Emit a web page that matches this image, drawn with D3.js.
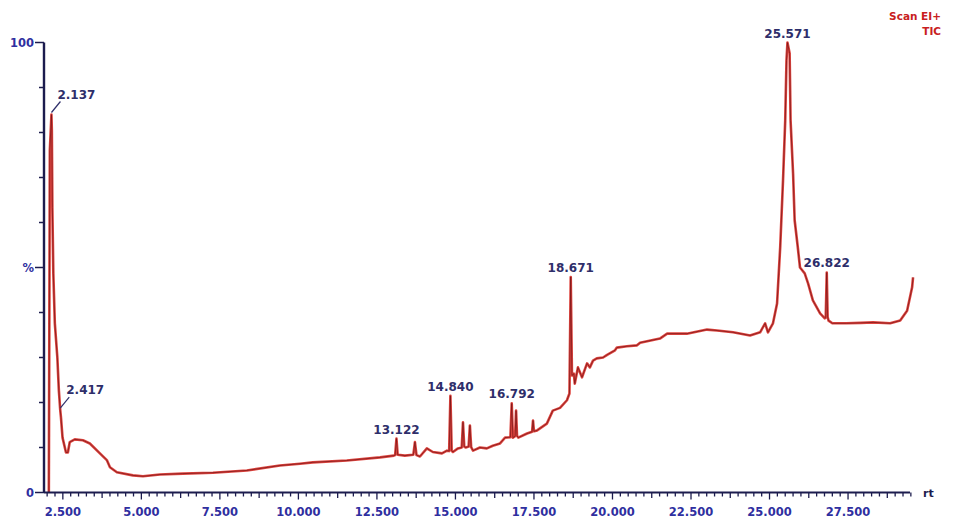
<!DOCTYPE html>
<html>
<head>
<meta charset="utf-8">
<script src="https://cdn.jsdelivr.net/npm/d3@7"></script>
<style>
  html, body { margin: 0; padding: 0; background: #ffffff; }
  svg { display: block; }
  text { font-family: "DejaVu Sans", Verdana, sans-serif; font-weight: bold; }
</style>
</head>
<body>
<svg id="chart" width="954" height="519"></svg>
<script>
// Total ion chromatogram (Scan EI+, TIC): retention time (min) vs relative abundance (%)
const retentionTimes = [
  2.054, 2.086, 2.137, 2.150, 2.166, 2.197, 2.245, 2.325, 2.373, 2.417, 2.440, 2.490,
  2.600, 2.660, 2.720, 2.880, 3.140, 3.360, 3.680, 3.900, 4.000, 4.220, 4.730, 5.050,
  5.590, 6.320, 7.280, 8.360, 9.410, 10.050, 10.460, 11.540, 12.600, 13.040, 13.080,
  13.122, 13.160, 13.390, 13.660, 13.710, 13.760, 13.870, 14.090, 14.280, 14.570, 14.730,
  14.800, 14.840, 14.880, 14.920, 15.080, 15.200, 15.240, 15.280, 15.330, 15.420, 15.460,
  15.500, 15.560, 15.780, 16.000, 16.190, 16.420, 16.580, 16.750, 16.792, 16.830, 16.900,
  16.930, 16.960, 17.000, 17.280, 17.440, 17.470, 17.500, 17.600, 17.910, 18.100, 18.330,
  18.550, 18.630, 18.671, 18.710, 18.770, 18.800, 18.900, 19.030, 19.190, 19.280, 19.380,
  19.500, 19.700, 19.830, 20.080, 20.140, 20.460, 20.780, 20.880, 21.510, 21.740, 22.370,
  23.010, 23.330, 23.840, 24.380, 24.700, 24.860, 24.950, 25.110, 25.240, 25.340, 25.430,
  25.500, 25.540, 25.571, 25.640, 25.670, 25.750, 25.800, 25.900, 25.970, 26.120, 26.230,
  26.380, 26.610, 26.760, 26.790, 26.822, 26.850, 26.880, 27.000, 27.450, 27.900, 28.300,
  28.840, 29.160, 29.380, 29.540, 29.570
];
const abundance = [
  0.0, 76.0, 84.0, 80.4, 63.3, 48.7, 37.6, 30.0, 22.7, 18.3, 16.7, 12.2,
  8.9, 8.9, 11.2, 11.8, 11.6, 10.9, 8.7, 7.2, 5.6, 4.5, 3.8, 3.6,
  4.0, 4.2, 4.4, 4.9, 6.0, 6.4, 6.7, 7.1, 7.8, 8.2, 8.3,
  12.0, 8.4, 8.2, 8.4, 11.2, 8.3, 8.0, 9.8, 9.0, 8.7, 9.3,
  9.2, 21.5, 9.3, 9.0, 9.8, 10.0, 15.6, 10.2, 10.0, 10.2, 14.9,
  10.1, 9.3, 10.0, 9.8, 10.4, 10.9, 12.2, 12.3, 19.8, 12.2, 12.5,
  18.2, 12.6, 12.2, 13.1, 13.5, 16.0, 13.6, 13.8, 15.3, 18.2, 18.8,
  20.5, 22.0, 47.9, 26.0, 26.4, 24.2, 27.8, 25.6, 28.7, 27.8, 29.3,
  29.8, 30.0, 30.6, 31.6, 32.2, 32.5, 32.7, 33.3, 34.2, 35.3, 35.3,
  36.2, 36.0, 35.6, 34.9, 35.6, 37.6, 35.6, 37.6, 42.0, 54.5, 69.4,
  82.7, 96.0, 100.0, 97.6, 82.7, 70.9, 60.5, 54.5, 50.0, 48.7, 46.4,
  42.7, 39.8, 38.7, 38.9, 48.9, 39.0, 38.2, 37.6, 37.6, 37.7, 37.8,
  37.6, 38.2, 40.4, 45.6, 47.8
];

// Annotated peaks (retention time labels)
const peakTimes = [2.137, 2.417, 13.122, 14.840, 16.792, 18.671, 25.571, 26.822];
const peakLabels = ["2.137", "2.417", "13.122", "14.840", "16.792", "18.671", "25.571", "26.822"];

// Axis tick labels
const xTickValues = [2.5, 5, 7.5, 10, 12.5, 15, 17.5, 20, 22.5, 25, 27.5];
const xTickLabels = ["2.500", "5.000", "7.500", "10.000", "12.500", "15.000", "17.500", "20.000", "22.500", "25.000", "27.500"];
const yTickValues = [0, 50, 100];
const yTickLabels = ["0", "%", "100"];

const axisColor = "#1c1c4e";
const tickLabelColor = "#2f2fa0";
const peakLabelColor = "#2e2e6a";
const traceColor = "#d8261f";

const svg = d3.select("#chart");
const plotLeft = 44, plotRight = 914, plotTop = 42.5, plotBottom = 492.5;

const x = d3.scaleLinear().domain([1.9, 29.6]).range([plotLeft, plotRight]);
const y = d3.scaleLinear().domain([0, 100]).range([plotBottom, plotTop]);

const points = retentionTimes.map((t, i) => ({ t, v: abundance[i] }));

// Trace: red band with darker core
const line = d3.line().x(d => x(d.t)).y(d => y(d.v));
svg.append("path").datum(points)
  .attr("d", line)
  .attr("fill", "none")
  .attr("stroke", traceColor)
  .attr("stroke-width", 2.6)
  .attr("stroke-linejoin", "round")
  .attr("opacity", 0.85);
svg.append("path").datum(points)
  .attr("d", line)
  .attr("fill", "none")
  .attr("stroke", "#6e0f12")
  .attr("stroke-width", 0.9)
  .attr("stroke-linejoin", "round")
  .attr("opacity", 0.75);

// X axis: line plus minor (0.25), medium (1.25) and major (2.5) ticks
const xAxisG = svg.append("g");
xAxisG.append("line")
  .attr("x1", plotLeft).attr("x2", 910)
  .attr("y1", plotBottom).attr("y2", plotBottom)
  .attr("stroke", axisColor).attr("stroke-width", 2);
const minorTicks = d3.range(2.0, 29.51, 0.25);
xAxisG.selectAll("line.tick").data(minorTicks).join("line")
  .attr("class", "tick")
  .attr("x1", d => x(d)).attr("x2", d => x(d))
  .attr("y1", plotBottom)
  .attr("y2", d => {
    const r25 = Math.abs(d / 2.5 - Math.round(d / 2.5)) < 1e-6;
    const r125 = Math.abs(d / 1.25 - Math.round(d / 1.25)) < 1e-6;
    return plotBottom + (r25 ? 7 : r125 ? 5.5 : 4);
  })
  .attr("stroke", axisColor).attr("stroke-width", 1.3);
xAxisG.selectAll("text").data(xTickValues).join("text")
  .attr("x", d => x(d))
  .attr("y", 516)
  .attr("text-anchor", "middle")
  .attr("font-size", 11.5)
  .attr("fill", tickLabelColor)
  .text((d, i) => xTickLabels[i]);
svg.append("text")
  .attr("x", 923).attr("y", 497)
  .attr("font-size", 11)
  .attr("fill", axisColor)
  .text("rt");

// Y axis: line, ticks every 10 %, labels at 0 / % / 100
const yAxisG = svg.append("g");
yAxisG.append("line")
  .attr("x1", plotLeft).attr("x2", plotLeft)
  .attr("y1", plotTop).attr("y2", plotBottom)
  .attr("stroke", axisColor).attr("stroke-width", 2.4);
yAxisG.selectAll("line.tick").data(d3.range(0, 101, 10)).join("line")
  .attr("class", "tick")
  .attr("x1", d => (d % 50 === 0 ? plotLeft - 9 : plotLeft - 5)).attr("x2", plotLeft)
  .attr("y1", d => y(d)).attr("y2", d => y(d))
  .attr("stroke", axisColor).attr("stroke-width", 1.5);
yAxisG.selectAll("text").data(yTickValues).join("text")
  .attr("x", plotLeft - 10)
  .attr("y", d => y(d) + 4.5)
  .attr("text-anchor", "end")
  .attr("font-size", 11.5)
  .attr("fill", tickLabelColor)
  .text((d, i) => yTickLabels[i]);

// Peak annotations
const valueAt = t => {
  const i = retentionTimes.findIndex(r => Math.abs(r - t) < 1e-6);
  return abundance[i];
};
const peaks = peakTimes.map((t, i) => ({ t, v: valueAt(t), label: peakLabels[i] }));
const peakG = svg.append("g");
peaks.forEach(p => {
  const px = x(p.t), py = y(p.v);
  if (p.t < 3) {
    // early peaks: label offset to the right with a leader line
    peakG.append("line")
      .attr("x1", px).attr("y1", py - 2)
      .attr("x2", px + 9).attr("y2", py - 13)
      .attr("stroke", peakLabelColor).attr("stroke-width", 1.2);
    peakG.append("text")
      .attr("x", px + 6).attr("y", py - 16)
      .attr("font-size", 12)
      .attr("fill", peakLabelColor)
      .text(p.label);
  } else {
    peakG.append("text")
      .attr("x", px).attr("y", py - 5)
      .attr("text-anchor", "middle")
      .attr("font-size", 12)
      .attr("fill", peakLabelColor)
      .text(p.label);
  }
});

// Header
svg.append("text")
  .attr("x", 941).attr("y", 19.5)
  .attr("text-anchor", "end")
  .attr("font-size", 10.5)
  .attr("fill", "#c8201e")
  .text("Scan EI+");
svg.append("text")
  .attr("x", 941).attr("y", 35)
  .attr("text-anchor", "end")
  .attr("font-size", 10.5)
  .attr("fill", "#c8201e")
  .text("TIC");
</script>
</body>
</html>
